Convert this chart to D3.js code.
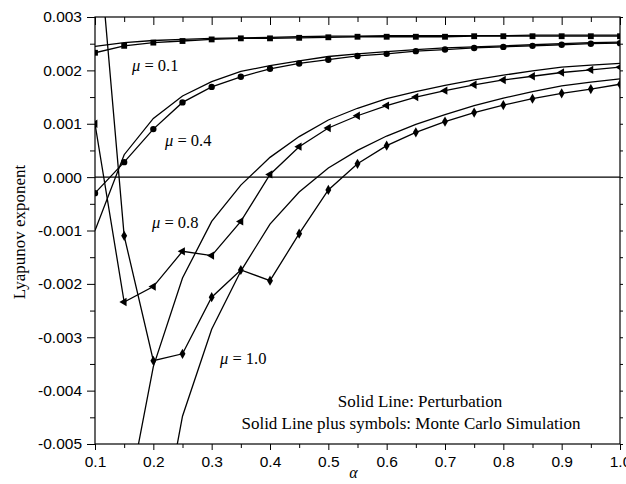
<!DOCTYPE html>
<html>
<head>
<meta charset="utf-8">
<script src="https://cdn.jsdelivr.net/npm/d3@7"></script>
<style>
  body { margin: 0; background: #fff; }
  svg { display: block; font-family: "Liberation Serif", "DejaVu Serif", serif; }
</style>
</head>
<body>
<div id="chart"></div>
<script>
const alpha = [0.1, 0.15, 0.2, 0.25, 0.3, 0.35, 0.4, 0.45, 0.5, 0.55, 0.6, 0.65, 0.7, 0.75, 0.8, 0.85, 0.9, 0.95, 1.0];

// perturbation (solid line only), null = not drawn
const pert_mu01 = [0.00245, 0.00252, 0.00256, 0.00258, 0.0026, 0.00261, 0.00262, 0.00263, 0.00264, 0.00264, 0.00265, 0.00265, 0.00265, 0.00265, 0.00265, 0.00266, 0.00266, 0.00266, 0.00266];
const pert_mu04 = [-0.001, 0.00042, 0.0011, 0.00152, 0.00179, 0.00198, 0.00209, 0.00218, 0.00226, 0.00231, 0.00235, 0.00239, 0.00242, 0.00244, 0.00246, 0.00248, 0.0025, 0.00252, 0.00253];
const pert_mu08 = [null, -0.0064, -0.00355, -0.00189, -0.00083, -0.00015, 0.00037, 0.00076, 0.00107, 0.00129, 0.00147, 0.0016, 0.00172, 0.00182, 0.00191, 0.00199, 0.00206, 0.0021, 0.00213];
const pert_mu10 = [null, null, -0.0074, -0.00448, -0.00285, -0.00176, -0.00088, -0.00028, 0.00017, 0.0005, 0.00077, 0.00099, 0.00117, 0.00134, 0.00148, 0.0016, 0.00171, 0.00178, 0.00184];

// monte carlo (line plus symbols)
const mc_mu01 = [0.00233, 0.00246, 0.00252, 0.00255, 0.00258, 0.0026, 0.0026, 0.00261, 0.00262, 0.00263, 0.00263, 0.00263, 0.00263, 0.00264, 0.00264, 0.00264, 0.00264, 0.00264, 0.00264];
const mc_mu04 = [-0.0003, 0.00028, 0.0009, 0.0014, 0.00169, 0.00188, 0.00203, 0.00213, 0.0022, 0.00227, 0.00231, 0.00236, 0.00239, 0.00242, 0.00244, 0.00246, 0.00248, 0.0025, 0.00251];
const mc_mu08 = [0.001, -0.00234, -0.00205, -0.00139, -0.00147, -0.00083, 0.00005, 0.00057, 0.00092, 0.00115, 0.00134, 0.0015, 0.00162, 0.00173, 0.00182, 0.00189, 0.00196, 0.00201, 0.00206];
const mc_mu10 = [0.0052, -0.0011, -0.00344, -0.00331, -0.00225, -0.00174, -0.00194, -0.00106, -0.00024, 0.00025, 0.00059, 0.00084, 0.00104, 0.00121, 0.00135, 0.00147, 0.00157, 0.00165, 0.00174];

const x_ticks = [0.1, 0.2, 0.3, 0.4, 0.5, 0.6, 0.7, 0.8, 0.9, 1.0];
const x_minor = [0.15, 0.25, 0.35, 0.45, 0.55, 0.65, 0.75, 0.85, 0.95];
const y_ticks = [0.003, 0.002, 0.001, 0, -0.001, -0.002, -0.003, -0.004, -0.005];
const y_minor = [0.0025, 0.0015, 0.0005, -0.0005, -0.0015, -0.0025, -0.0035, -0.0045];

const mu_labels = ["0.1", "0.4", "0.8", "1.0"];
const notes = ["Solid Line: Perturbation", "Solid Line plus symbols: Monte Carlo Simulation"];

const width = 626;
const height = 484;
const margin = { left: 95, right: 6, top: 17, bottom: 40 };

const svg = d3.select("#chart")
  .append("svg")
  .attr("width", width)
  .attr("height", height);

const x = d3.scaleLinear().domain([0.1, 1.0]).range([margin.left, width - margin.right]);
const y = d3.scaleLinear().domain([-0.005, 0.003]).range([height - margin.bottom, margin.top]);

svg.append("clipPath")
  .attr("id", "plot-clip")
  .append("rect")
  .attr("x", x(0.1))
  .attr("y", y(0.003))
  .attr("width", x(1.0) - x(0.1))
  .attr("height", y(-0.005) - y(0.003));

// axes
const style_axis = (g) => {
  g.select(".domain").remove();
  g.selectAll("line").attr("stroke", "#000").attr("stroke-width", 1);
  g.selectAll("text").attr("fill", "#000").style("font-size", "15.5px");
}

svg.append("g")
  .attr("transform", `translate(0,${y(-0.005)})`)
  .call(d3.axisBottom(x).tickValues(x_ticks).tickSize(6).tickPadding(6).tickFormat((d) => d.toFixed(1)))
  .call(style_axis);
svg.append("g")
  .attr("transform", `translate(0,${y(-0.005)})`)
  .call(d3.axisBottom(x).tickValues(x_minor).tickSize(4).tickFormat(""))
  .call(style_axis);

svg.append("g")
  .attr("transform", `translate(0,${y(0.003)})`)
  .call(d3.axisTop(x).tickValues(x_ticks).tickSize(-8).tickFormat(""))
  .call(style_axis);
svg.append("g")
  .attr("transform", `translate(0,${y(0.003)})`)
  .call(d3.axisTop(x).tickValues(x_minor).tickSize(-5).tickFormat(""))
  .call(style_axis);

svg.append("g")
  .attr("transform", `translate(${x(0.1)},0)`)
  .call(d3.axisLeft(y).tickValues(y_ticks).tickSize(8).tickPadding(5).tickFormat((d) => d.toFixed(3)))
  .call(style_axis);
svg.append("g")
  .attr("transform", `translate(${x(0.1)},0)`)
  .call(d3.axisLeft(y).tickValues(y_minor).tickSize(5).tickFormat(""))
  .call(style_axis);

svg.append("g")
  .attr("transform", `translate(${x(1.0)},0)`)
  .call(d3.axisRight(y).tickValues(y_ticks.concat(y_minor)).tickSize(3).tickFormat(""))
  .call(style_axis);

// frame
svg.append("rect")
  .attr("x", x(0.1))
  .attr("y", y(0.003))
  .attr("width", x(1.0) - x(0.1))
  .attr("height", y(-0.005) - y(0.003))
  .attr("fill", "none")
  .attr("stroke", "#000")
  .attr("stroke-width", 1.2);

// zero line
svg.append("line")
  .attr("x1", x(0.1))
  .attr("x2", x(1.0))
  .attr("y1", y(0))
  .attr("y2", y(0))
  .attr("stroke", "#000")
  .attr("stroke-width", 1.2);

const plot = svg.append("g").attr("clip-path", "url(#plot-clip)");

const line = d3.line()
  .defined((d) => d[1] != null)
  .x((d) => x(d[0]))
  .y((d) => y(d[1]));

const pairs = (vals) => alpha.map((a, i) => [a, vals[i]]);

[pert_mu01, pert_mu04, pert_mu08, pert_mu10].forEach((vals) => {
  plot.append("path")
    .datum(pairs(vals))
    .attr("d", line)
    .attr("fill", "none")
    .attr("stroke", "#000")
    .attr("stroke-width", 1.3);
});

const mc_series = [
  { vals: mc_mu01, symbol: d3.symbolSquare, size: 34, rotate: 0 }
  , { vals: mc_mu04, symbol: d3.symbolCircle, size: 32, rotate: 0 }
  , { vals: mc_mu08, symbol: d3.symbolTriangle, size: 30, rotate: -90 }
  , { vals: mc_mu10, symbol: d3.symbolDiamond, size: 30, rotate: 0 }
];

mc_series.forEach((s) => {
  const pts = pairs(s.vals);
  plot.append("path")
    .datum(pts)
    .attr("d", line)
    .attr("fill", "none")
    .attr("stroke", "#000")
    .attr("stroke-width", 1.3);

  plot.selectAll(null)
    .data(pts)
    .enter()
    .append("path")
    .attr("d", d3.symbol().type(s.symbol).size(s.size))
    .attr("transform", (d) => `translate(${x(d[0])},${y(d[1])}) rotate(${s.rotate})`)
    .attr("fill", "#000");
});

// mu labels
const mu_pos = [[132, 71], [165, 146], [152, 228], [220, 364]];
mu_labels.forEach((m, i) => {
  const t = svg.append("text")
    .attr("x", mu_pos[i][0])
    .attr("y", mu_pos[i][1])
    .style("font-size", "16.5px");
  t.append("tspan").style("font-style", "italic").text("\u03bc");
  t.append("tspan").text(" = " + m);
});

// notes
svg.append("text")
  .attr("x", 420)
  .attr("y", 407)
  .attr("text-anchor", "middle")
  .style("font-size", "17px")
  .text(notes[0]);
svg.append("text")
  .attr("x", 411)
  .attr("y", 429)
  .attr("text-anchor", "middle")
  .style("font-size", "17px")
  .text(notes[1]);

// axis titles
svg.append("text")
  .attr("x", (x(0.1) + x(1.0)) / 2 - 4)
  .attr("y", 478)
  .attr("text-anchor", "middle")
  .style("font-size", "16px")
  .style("font-style", "italic")
  .text("\u03b1");

svg.append("text")
  .attr("transform", `translate(25,${232}) rotate(-90)`)
  .attr("text-anchor", "middle")
  .style("font-size", "17px")
  .text("Lyapunov exponent");
</script>
</body>
</html>
